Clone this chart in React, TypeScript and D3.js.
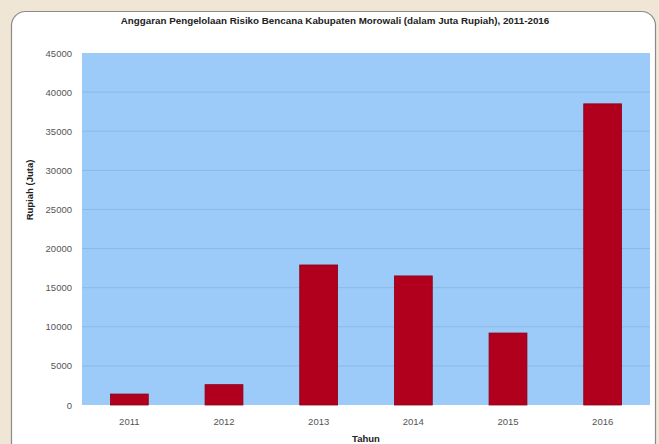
import React from "react";
import * as d3 from "d3";

const years = ["2011", "2012", "2013", "2014", "2015", "2016"];
const values = [1400, 2600, 17900, 16500, 9200, 38500];
const yTicks = [0, 5000, 10000, 15000, 20000, 25000, 30000, 35000, 40000, 45000];
const title = "Anggaran Pengelolaan Risiko Bencana Kabupaten Morowali (dalam Juta Rupiah), 2011-2016";
const xTitle = "Tahun";
const yTitle = "Rupiah (Juta)";

const W = 659;
const H = 444;
const plot = { left: 82, right: 650, top: 53, bottom: 405 };

export default function App() {
  const x = d3.scaleBand<string>().domain(years).range([plot.left, plot.right]).paddingInner(0.6).paddingOuter(0.3);
  const y = d3.scaleLinear().domain([0, 45000]).range([plot.bottom, plot.top]);
  const font = "'Liberation Sans', Arial, sans-serif";
  return (
    <svg width={W} height={H} style={{ position: "absolute", left: 0, top: 0 }} fontFamily={font}>
      <rect x={0} y={0} width={W} height={H} fill="#efe6d6" />
      <rect x={11.5} y={11.5} width={644} height={470} rx={14} ry={14} fill="#ffffff" stroke="#8a8a8a" strokeWidth={1.2} />
      <text x={335} y={24} textAnchor="middle" fontSize={9.8} fontWeight="bold" fill="#222">{title}</text>
      <rect x={plot.left} y={plot.top} width={plot.right - plot.left} height={plot.bottom - plot.top} fill="#9dcbf9" />
      {yTicks.map((t) => (
        <g key={t}>
          {t > 0 && t < 45000 && (
            <line x1={plot.left} x2={plot.right} y1={y(t)} y2={y(t)} stroke="#8cb8e4" strokeWidth={1} />
          )}
          <text x={72} y={y(t) + 3.5} textAnchor="end" fontSize={9.5} fill="#555">{t}</text>
        </g>
      ))}
      {years.map((yr, i) => (
        <g key={yr}>
          <rect
            x={x(yr)!}
            y={y(values[i])}
            width={x.bandwidth()}
            height={y(0) - y(values[i])}
            fill="#b0001e"
            stroke="#8a0018"
            strokeWidth={0.8}
          />
          <text x={x(yr)! + x.bandwidth() / 2} y={425} textAnchor="middle" fontSize={9.5} fill="#555">{yr}</text>
        </g>
      ))}
      <text x={(plot.left + plot.right) / 2} y={442} textAnchor="middle" fontSize={9.5} fontWeight="bold" fill="#222">{xTitle}</text>
      <text transform={`translate(33, 190) rotate(-90)`} textAnchor="middle" fontSize={9.5} fontWeight="bold" fill="#222">{yTitle}</text>
    </svg>
  );
}
